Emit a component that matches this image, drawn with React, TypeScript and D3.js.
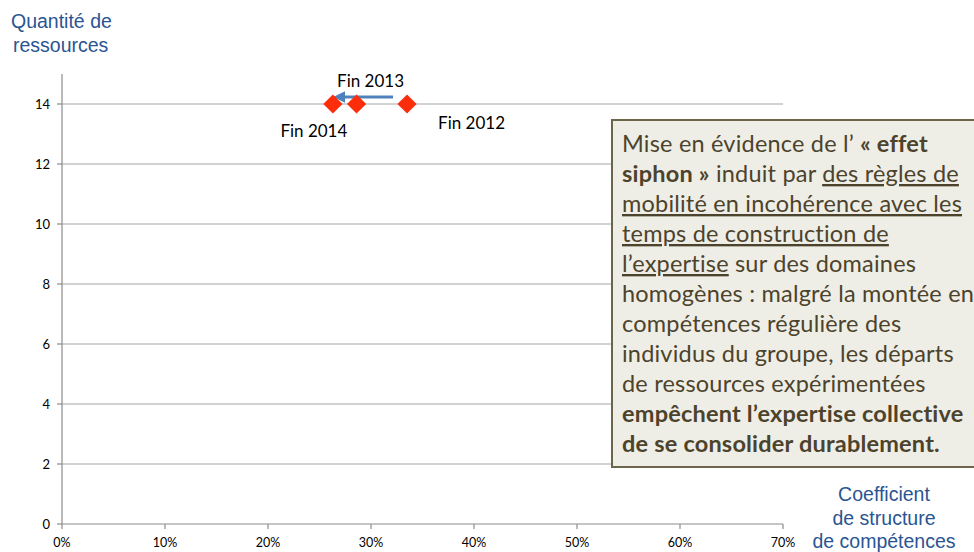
import React from "react";
import * as d3 from "d3";

const pointLabels = ["Fin 2012", "Fin 2013", "Fin 2014"];
const pointX = [0.335, 0.286, 0.263];
const pointY = [14, 14, 14];
const xTicks = [0, 0.1, 0.2, 0.3, 0.4, 0.5, 0.6, 0.7];
const yTicks = [0, 2, 4, 6, 8, 10, 12, 14];
const yAxisTitle = ["Quantité de", "ressources"];
const xAxisTitle = ["Coefficient", "de structure", "de compétences"];

type Seg = { t: string; b?: boolean; u?: boolean };
const boxLines: Seg[][] = [
  [{ t: "Mise en évidence de l’ " }, { t: "« effet", b: true }],
  [{ t: "siphon »", b: true }, { t: " induit par " }, { t: "des règles de", u: true }],
  [{ t: "mobilité en incohérence avec les", u: true }],
  [{ t: "temps de construction de", u: true }],
  [{ t: "l’expertise", u: true }, { t: " sur des domaines" }],
  [{ t: "homogènes : malgré la montée en" }],
  [{ t: "compétences régulière des" }],
  [{ t: "individus du groupe, les départs" }],
  [{ t: "de ressources expérimentées" }],
  [{ t: "empêchent l’expertise collective", b: true }],
  [{ t: "de se consolider durablement.", b: true }],
];

const W = 974;
const H = 552;
const left = 62;
const right = 783;
const bottom = 524;

export default function App() {
  const x = d3.scaleLinear().domain([0, 0.7]).range([left, right]);
  const y = d3.scaleLinear().domain([0, 15]).range([bottom, bottom - 450]);
  const fmt = d3.format(".0%");
  const font = "Lato, 'Open Sans', sans-serif";
  const diamond = d3.symbol().type(d3.symbolSquare).size(185)();

  const labelPos: Record<string, { dx: number; dy: number; anchor: string }> = {
    "Fin 2012": { dx: 31, dy: 25, anchor: "start" },
    "Fin 2013": { dx: 14, dy: -17, anchor: "middle" },
    "Fin 2014": { dx: -19, dy: 33, anchor: "middle" },
  };

  const arrowY = y(14) - 7;
  const arrowX1 = x(pointX[0]) - 14;
  const arrowX2 = x(pointX[2]) + 10;

  return (
    <svg width={W} height={H} style={{ position: "absolute", left: 0, top: 0, background: "#fff" }}>
      <defs>
        <marker id="ah" viewBox="0 0 10 10" refX="2" refY="5" markerWidth="4" markerHeight="4" orient="auto-start-reverse">
          <path d="M0,0 L10,5 L0,10 z" fill="#4f81bd" />
        </marker>
      </defs>
      {/* grid */}
      {yTicks.map((t) => (
        <g key={t}>
          {t > 0 && <line x1={left} x2={right} y1={y(t)} y2={y(t)} stroke="#a6a6a6" strokeWidth={1.2} />}
          <line x1={left - 5} x2={left} y1={y(t)} y2={y(t)} stroke="#8c8c8c" strokeWidth={1.2} />
          <text x={left - 12} y={y(t) + 4.5} textAnchor="end" fontFamily={font} fontSize={13} fill="#000">
            {t}
          </text>
        </g>
      ))}
      {/* axes */}
      <line x1={left} x2={left} y1={y(15)} y2={bottom} stroke="#8c8c8c" strokeWidth={1.2} />
      <line x1={left} x2={right} y1={bottom} y2={bottom} stroke="#8c8c8c" strokeWidth={1.2} />
      {xTicks.map((t) => (
        <g key={t}>
          <line x1={x(t)} x2={x(t)} y1={bottom} y2={bottom + 5} stroke="#8c8c8c" strokeWidth={1.2} />
          <text x={x(t)} y={bottom + 23} textAnchor="middle" fontFamily={font} fontSize={12.5} fill="#000">
            {fmt(t)}
          </text>
        </g>
      ))}
      {/* axis titles */}
      {yAxisTitle.map((s, i) => (
        <text key={s} x={i === 0 ? 11 : 13} y={28 + i * 24} fontFamily="'Liberation Sans', Arial, sans-serif" fontSize={19.5} fill="#2a5592">
          {s}
        </text>
      ))}
      {xAxisTitle.map((s, i) => (
        <text key={s} x={884} y={501 + i * 23.5} textAnchor="middle" fontFamily="'Liberation Sans', Arial, sans-serif" fontSize={19.5} fill="#2a5592">
          {s}
        </text>
      ))}
      {/* arrow */}
      <line x1={arrowX1} x2={arrowX2} y1={arrowY} y2={arrowY} stroke="#4f81bd" strokeWidth={3} markerEnd="url(#ah)" />
      {/* points */}
      {pointLabels.map((lab, i) => {
        const px = x(pointX[i]);
        const py = y(pointY[i]);
        const lp = labelPos[lab];
        return (
          <g key={lab}>
            <path d={diamond} transform={`translate(${px},${py}) rotate(45)`} fill="#fb2d0a" />
            <text x={px + lp.dx} y={py + lp.dy} textAnchor={lp.anchor} fontFamily={font} fontSize={17} fill="#000">
              {lab}
            </text>
          </g>
        );
      })}
      {/* text box */}
      <rect x={612} y={120} width={400} height={347} fill="#efeee6" stroke="#6b6549" strokeWidth={2} />
      {boxLines.map((line, i) => (
        <text key={i} x={622} y={152 + i * 30} fontFamily={font} fontSize={23.5} letterSpacing={0.2} fill="#4c432c">
          {line.map((s, j) => (
            <tspan key={j} fontWeight={s.b ? 700 : 400} style={s.u ? { textDecoration: "underline" } : undefined}>
              {s.t}
            </tspan>
          ))}
        </text>
      ))}
    </svg>
  );
}
